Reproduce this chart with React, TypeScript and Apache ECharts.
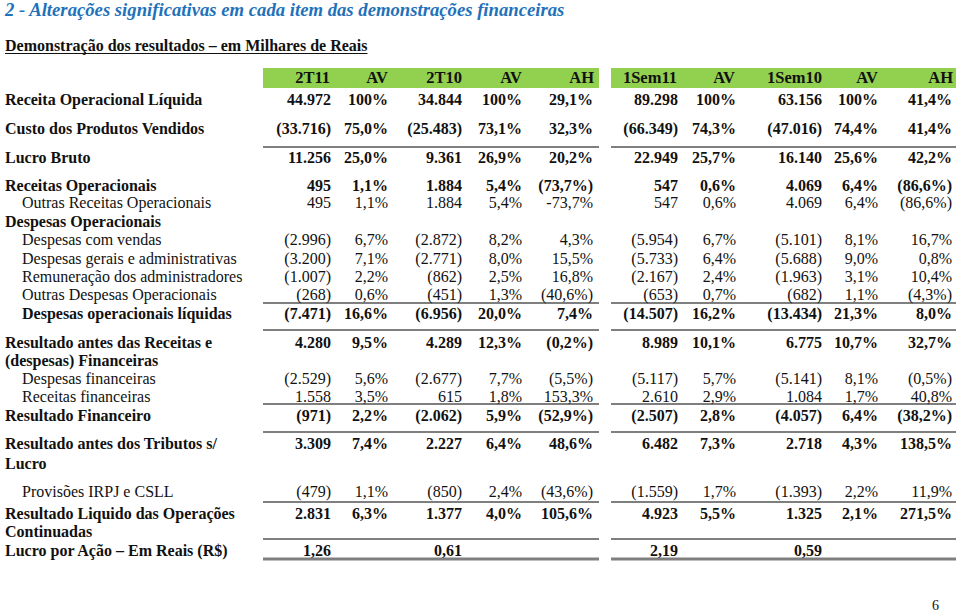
import React, { useEffect, useRef } from "react";
import * as echarts from "echarts";

// ---------- DATA ----------
const pageTitle = "2 - Alterações significativas em cada item das demonstrações financeiras";
const tableTitle = "Demonstração dos resultados – em Milhares de Reais";
const headersLeft = ["2T11", "AV", "2T10", "AV", "AH"];
const headersRight = ["1Sem11", "AV", "1Sem10", "AV", "AH"];

const rowLabels = [
  "Receita Operacional Líquida",
  "Custo dos Produtos Vendidos",
  "Lucro Bruto",
  "Receitas Operacionais",
  "Outras Receitas Operacionais",
  "Despesas Operacionais",
  "Despesas com vendas",
  "Despesas gerais e administrativas",
  "Remuneração dos administradores",
  "Outras Despesas Operacionais",
  "Despesas operacionais líquidas",
  "Resultado antes das Receitas e",
  "(despesas) Financeiras",
  "Despesas financeiras",
  "Receitas financeiras",
  "Resultado Financeiro",
  "Resultado antes dos Tributos s/",
  "Lucro",
  "Provisões IRPJ e CSLL",
  "Resultado Liquido das Operações",
  "Continuadas",
  "Lucro por Ação – Em Reais (R$)",
];

const val2T11 = ["44.972", "(33.716)", "11.256", "495", "495", "", "(2.996)", "(3.200)", "(1.007)", "(268)", "(7.471)", "4.280", "", "(2.529)", "1.558", "(971)", "3.309", "", "(479)", "2.831", "", "1,26"];
const avQ11 = ["100%", "75,0%", "25,0%", "1,1%", "1,1%", "", "6,7%", "7,1%", "2,2%", "0,6%", "16,6%", "9,5%", "", "5,6%", "3,5%", "2,2%", "7,4%", "", "1,1%", "6,3%", "", ""];
const val2T10 = ["34.844", "(25.483)", "9.361", "1.884", "1.884", "", "(2.872)", "(2.771)", "(862)", "(451)", "(6.956)", "4.289", "", "(2.677)", "615", "(2.062)", "2.227", "", "(850)", "1.377", "", "0,61"];
const avQ10 = ["100%", "73,1%", "26,9%", "5,4%", "5,4%", "", "8,2%", "8,0%", "2,5%", "1,3%", "20,0%", "12,3%", "", "7,7%", "1,8%", "5,9%", "6,4%", "", "2,4%", "4,0%", "", ""];
const ahQ = ["29,1%", "32,3%", "20,2%", "(73,7%)", "-73,7%", "", "4,3%", "15,5%", "16,8%", "(40,6%)", "7,4%", "(0,2%)", "", "(5,5%)", "153,3%", "(52,9%)", "48,6%", "", "(43,6%)", "105,6%", "", ""];
const val1Sem11 = ["89.298", "(66.349)", "22.949", "547", "547", "", "(5.954)", "(5.733)", "(2.167)", "(653)", "(14.507)", "8.989", "", "(5.117)", "2.610", "(2.507)", "6.482", "", "(1.559)", "4.923", "", "2,19"];
const avS11 = ["100%", "74,3%", "25,7%", "0,6%", "0,6%", "", "6,7%", "6,4%", "2,4%", "0,7%", "16,2%", "10,1%", "", "5,7%", "2,9%", "2,8%", "7,3%", "", "1,7%", "5,5%", "", ""];
const val1Sem10 = ["63.156", "(47.016)", "16.140", "4.069", "4.069", "", "(5.101)", "(5.688)", "(1.963)", "(682)", "(13.434)", "6.775", "", "(5.141)", "1.084", "(4.057)", "2.718", "", "(1.393)", "1.325", "", "0,59"];
const avS10 = ["100%", "74,4%", "25,6%", "6,4%", "6,4%", "", "8,1%", "9,0%", "3,1%", "1,1%", "21,3%", "10,7%", "", "8,1%", "1,7%", "6,4%", "4,3%", "", "2,2%", "2,1%", "", ""];
const ahS = ["41,4%", "41,4%", "42,2%", "(86,6%)", "(86,6%)", "", "16,7%", "0,8%", "10,4%", "(4,3%)", "8,0%", "32,7%", "", "(0,5%)", "40,8%", "(38,2%)", "138,5%", "", "11,9%", "271,5%", "", ""];
const pageNumber = "6";

// ---------- LAYOUT / STYLE ----------
const columns = [val2T11, avQ11, val2T10, avQ10, ahQ, val1Sem11, avS11, val1Sem10, avS10, ahS];
const colRight = [331, 388, 462, 522, 593, 678, 736, 822, 878, 952];
const headerRight = [330, 388, 462, 522, 594, 677, 735, 822, 878, 953];
const headerY = 77;
const rowY = [99, 128, 157, 185, 202, 221, 239, 258, 276, 294, 313, 342, 360, 378, 396, 415, 443, 463, 491, 513, 531, 550];
const rowBold = [1, 1, 1, 1, 0, 1, 0, 0, 0, 0, 1, 1, 1, 0, 0, 1, 1, 1, 0, 1, 1, 1];
const rowIndent = [0, 0, 0, 0, 1, 0, 1, 1, 1, 1, 1, 0, 0, 1, 1, 0, 0, 0, 1, 0, 0, 0];
const blocks = [
  [263, 599],
  [611, 956],
];
const ruleY = [147, 303, 330, 404, 432, 502, 539];
const bottomRuleY = 559;
const FAMILY = "'Liberation Serif', 'Times New Roman', Times, serif";
const SIZE = 16;
const GREEN = "#92D050";
const RULE = "#7f7f7f";
const TEXT = "#111111";
const BLUE = "#1F72BA";

function fontOf(bold: boolean, italic: boolean, size: number) {
  return `${italic ? "italic" : "normal"} ${bold ? "bold" : "normal"} ${size}px ${FAMILY}`;
}

function measure(text: string, font: string): number {
  const c = document.createElement("canvas");
  const ctx = c.getContext("2d");
  if (!ctx) return text.length * 7;
  ctx.font = font;
  return ctx.measureText(text).width;
}

function txt(text: string, x: number, y: number, opts: any = {}) {
  const align = opts.align || "left";
  return {
    type: "text",
    x,
    y,
    silent: true,
    style: {
      text,
      fill: opts.color || TEXT,
      font: fontOf(!!opts.bold, !!opts.italic, opts.size || SIZE),
      align,
      textAlign: align,
      verticalAlign: "middle",
      textVerticalAlign: "middle",
    },
  };
}

export default function App() {
  const ref = useRef<HTMLDivElement>(null);
  useEffect(() => {
    if (!ref.current) return;
    const chart = echarts.init(ref.current, null, { renderer: "svg" });
    const els: any[] = [];

    // title
    els.push(txt(pageTitle, 5, 9, { bold: true, italic: true, size: 18.7, color: BLUE }));
    els.push(txt(tableTitle, 5, 45, { bold: true, size: 16 }));
    const uw = measure(tableTitle, fontOf(true, false, 16));
    els.push({ type: "line", silent: true, shape: { x1: 5, y1: 53.5, x2: 5 + uw, y2: 53.5 }, style: { stroke: TEXT, lineWidth: 1.2 } });

    // header bands
    blocks.forEach(([a, b]) => {
      els.push({ type: "rect", silent: true, shape: { x: a, y: 68, width: b - a, height: 20 }, style: { fill: GREEN } });
    });
    const headers = headersLeft.concat(headersRight);
    headers.forEach((h, i) => els.push(txt(h, headerRight[i], headerY, { bold: true, align: "right", size: 16.5 })));

    // rules
    ruleY.forEach((y) => {
      blocks.forEach(([a, b]) => {
        els.push({ type: "line", silent: true, shape: { x1: a, y1: y, x2: b, y2: y }, style: { stroke: RULE, lineWidth: 2 } });
      });
    });
    blocks.forEach(([a, b]) => {
      els.push({ type: "line", silent: true, shape: { x1: a, y1: bottomRuleY, x2: b, y2: bottomRuleY }, style: { stroke: RULE, lineWidth: 3 } });
    });

    // rows
    rowLabels.forEach((label, r) => {
      const bold = !!rowBold[r];
      els.push(txt(label, rowIndent[r] ? 22 : 5, rowY[r], { bold }));
      columns.forEach((col, c) => {
        const v = col[r];
        if (v) els.push(txt(v, colRight[c], rowY[r], { bold, align: "right" }));
      });
    });

    els.push(txt(pageNumber, 932, 605, { size: 14 }));

    chart.setOption({ animation: false, backgroundColor: "#ffffff", graphic: { elements: els } });
    return () => chart.dispose();
  }, []);
  return (
    <div
      ref={ref}
      style={{ position: "fixed", left: 0, top: 0, width: 960, height: 612, background: "#fff" }}
    />
  );
}
